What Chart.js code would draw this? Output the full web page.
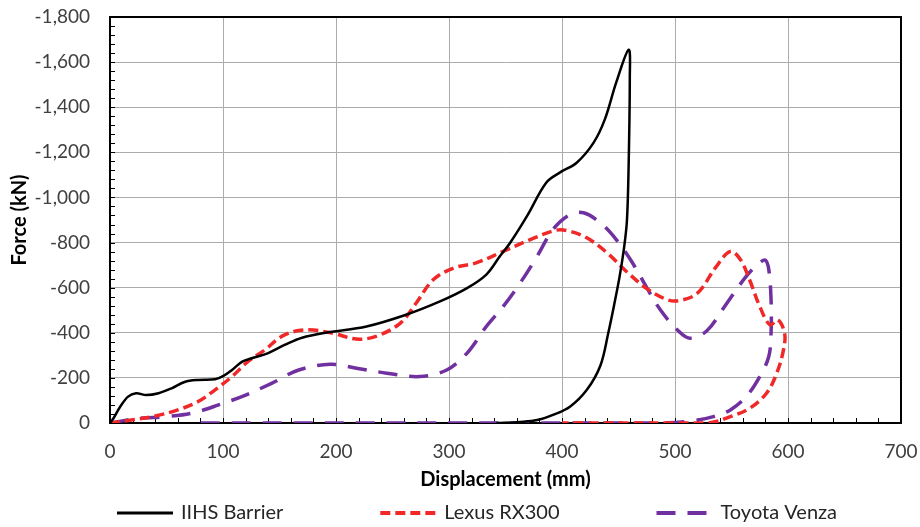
<!DOCTYPE html>
<html>
<head>
<meta charset="utf-8">
<script src="https://cdn.jsdelivr.net/npm/chart.js@4.4.1/dist/chart.umd.min.js"></script>
<style>
    html, body { margin: 0; padding: 0; background: #fff; }
    #wrap { width: 920px; height: 527px; }
</style>
</head>
<body>
<div id="wrap"><canvas id="forceChart"></canvas></div>
<script>
// Force-displacement loops (force stored negative, axis reversed like the original)
const seriesNames = ['IIHS Barrier', 'Lexus RX300', 'Toyota Venza'];

const barrierDisp = [0, 3, 9, 16, 23, 32, 43, 55, 66, 78, 93, 100, 108, 117, 126, 140, 155, 170, 192, 227, 262, 292, 316, 333, 345, 354, 369, 386, 398, 413, 428, 438, 448, 459,
    460, 459, 457.5, 455, 451, 446, 441, 434, 422, 407, 392, 378, 363, 342];
const barrierForce = [0, -20, -72, -117, -132, -124, -132, -155, -182, -191, -194, -208, -235, -272, -288, -310, -347, -378, -401, -428, -480, -539, -598, -658, -739, -798, -917, -1065, -1110, -1154, -1243, -1347, -1510, -1655,
    -1530, -1150, -900, -780, -650, -520, -400, -255, -147, -72, -36, -13, -5, 0];

const lexusDisp = [0, 19, 40, 60, 78, 93, 108, 122, 137, 152, 167, 180, 198, 218, 236, 257, 271, 286, 304, 324, 348, 372, 395, 407, 422, 440, 457, 475, 493, 504, 520, 536, 549, 558, 566, 575, 584, 591, 597, 596, 590, 581, 566, 549, 531, 500, 400];
const lexusForce = [0, -13, -31, -58, -95, -147, -206, -272, -324, -384, -410, -412, -397, -372, -385, -443, -532, -635, -687, -710, -761, -813, -855, -850, -821, -754, -672, -596, -547, -543, -576, -690, -761, -724, -635, -517, -435, -457, -398, -324, -220, -132, -65, -28, -1, 0, 0];

const venzaDisp = [0, 25, 49, 72, 96, 120, 143, 167, 195, 218, 245, 274, 298, 316, 333, 348, 363, 378, 392, 407, 419, 434, 448, 463, 475, 487, 502, 513, 528, 543, 563, 575, 580, 583, 585, 585, 583, 575, 563, 549, 534, 516, 493, 450, 70];
const venzaForce = [0, -20, -28, -43, -80, -124, -176, -235, -260, -243, -221, -206, -235, -310, -428, -517, -621, -739, -858, -924, -932, -887, -813, -705, -600, -502, -413, -376, -408, -510, -650, -710, -722, -680, -547, -398, -295, -206, -117, -58, -28, -10, -1, 0, 0];

const xTicks = [0, 100, 200, 300, 400, 500, 600, 700];

function toPoints(xs, ys) {
    return xs.map((x, i) => ({ x: x, y: ys[i] }));
}

// frame, inward minor ticks and the bottom legend
const excelLook = {
    id: 'excelLook',
    beforeDatasetsDraw(chart) {
        const { ctx, chartArea: a, scales: { x, y } } = chart;
        ctx.save();
        ctx.strokeStyle = '#000';
        ctx.lineWidth = 1;
        ctx.beginPath();
        for (let v = 0; v <= 700; v += 20) {
            const px = Math.round(x.getPixelForValue(v)) + 0.5;
            ctx.moveTo(px, a.bottom);
            ctx.lineTo(px, a.bottom - 5);
        }
        for (let v = 0; v >= -1800; v -= 40) {
            const py = Math.round(y.getPixelForValue(v)) + 0.5;
            ctx.moveTo(a.left, py);
            ctx.lineTo(a.left + 5, py);
        }
        ctx.stroke();
        ctx.lineWidth = 2;
        ctx.strokeRect(a.left, a.top, a.right - a.left, a.bottom - a.top);
        ctx.restore();
    },
    afterDraw(chart) {
        const ctx = chart.ctx;
        ctx.save();
        // legend
        const sample = 56, gap = 8, spacing = 97;
        ctx.font = '20px Lato';
        const items = chart.data.datasets;
        const widths = items.map(ds => sample + gap + ctx.measureText(ds.label).width);
        const total = widths.reduce((s, w) => s + w, 0) + spacing * (widths.length - 1);
        let lx = chart.width / 2 + 17 - total / 2;
        const ly = 513;
        items.forEach((ds, i) => {
            ctx.beginPath();
            ctx.strokeStyle = ds.borderColor;
            ctx.lineWidth = ds.borderWidth + 0.5;
            ctx.setLineDash(ds.borderDash || []);
            ctx.moveTo(lx, ly);
            ctx.lineTo(lx + sample, ly);
            ctx.stroke();
            ctx.setLineDash([]);
            ctx.fillStyle = '#262626';
            ctx.textBaseline = 'middle';
            ctx.textAlign = 'left';
            ctx.fillText(ds.label, lx + sample + gap, ly);
            lx += widths[i] + spacing;
        });
        ctx.restore();
    }
};

new Chart(document.getElementById('forceChart'), {
    type: 'scatter',
    data: {
        datasets: [
            {
                label: seriesNames[0],
                data: toPoints(barrierDisp, barrierForce),
                borderColor: '#000000',
                borderWidth: 2.5
            },
            {
                label: seriesNames[1],
                data: toPoints(lexusDisp, lexusForce),
                borderColor: '#f02828',
                borderWidth: 3.5,
                borderDash: [10, 5]
            },
            {
                label: seriesNames[2],
                data: toPoints(venzaDisp, venzaForce),
                borderColor: '#7030a0',
                borderWidth: 3.5,
                borderDash: [19, 12]
            }
        ].map(ds => Object.assign(ds, {
            showLine: true,
            fill: false,
            pointRadius: 0,
            pointHoverRadius: 0,
            tension: 0.35,
            backgroundColor: ds.borderColor
        }))
    },
    options: {
        responsive: true,
        maintainAspectRatio: false,
        animation: false,
        devicePixelRatio: 1,
        layout: { padding: { top: 17, right: 19, bottom: 32, left: 0 } },
        scales: {
            x: {
                type: 'linear',
                min: 0,
                max: 700,
                afterBuildTicks: scale => { scale.ticks = xTicks.map(v => ({ value: v })); },
                afterFit: scale => {
                    scale.height = 72;
                    scale.paddingLeft = 0;
                    scale.paddingRight = 0;
                },
                grid: { color: '#ababab', lineWidth: 1, drawTicks: false },
                border: { display: false },
                ticks: {
                    padding: 17,
                    color: '#404040',
                    font: { family: 'Lato', size: 19 }
                },
                title: {
                    display: true,
                    text: 'Displacement (mm)',
                    color: '#000',
                    font: { family: 'Lato', size: 20, weight: 'bold' },
                    padding: { top: 0, bottom: 3 }
                }
            },
            y: {
                type: 'linear',
                min: -1800,
                max: 0,
                reverse: true,
                afterFit: scale => {
                    scale.width = 110;
                    scale.paddingTop = 0;
                    scale.paddingBottom = 0;
                },
                grid: { color: '#ababab', lineWidth: 1, drawTicks: false },
                border: { display: false },
                ticks: {
                    stepSize: 200,
                    padding: 20,
                    color: '#404040',
                    font: { family: 'Lato', size: 19 }
                },
                title: {
                    display: true,
                    text: 'Force (kN)',
                    color: '#000',
                    font: { family: 'Lato', size: 20, weight: 'bold' },
                    padding: { top: 8, bottom: 0 }
                }
            }
        },
        plugins: {
            legend: { display: false },
            tooltip: { enabled: false }
        }
    },
    plugins: [excelLook]
});
</script>
</body>
</html>
